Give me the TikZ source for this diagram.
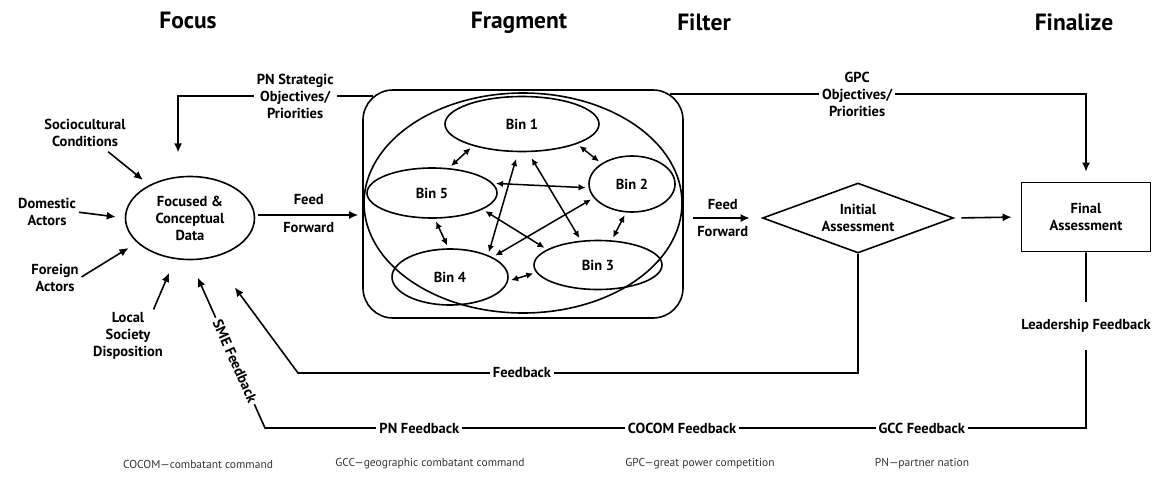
\documentclass[tikz,border=0pt]{standalone}
\usepackage{fontspec}
\setmainfont{PT Sans}
\usepackage{tikz}
\usetikzlibrary{positioning,arrows.meta,shapes,calc}

\begin{document}
\begin{tikzpicture}[
        x=1pt, y=-1pt,
        font=\bfseries\fontsize{14.5}{17}\selectfont,
        every node/.style={align=center, inner sep=1pt},
        heading/.style={anchor=base, font=\bfseries\fontsize{23.5}{28}\selectfont},
        oval/.style={ellipse, draw, line width=1.6pt, inner sep=0pt},
        bin/.style={ellipse, draw, line width=1.6pt, inner sep=0pt},
        lbl/.style={fill=white, inner sep=3pt},
        arrow/.style={-{Latex[length=9pt,width=8pt]}, line width=1.6pt},
        link/.style={{Latex[length=7pt,width=6.5pt]}-{Latex[length=7pt,width=6.5pt]},
                     line width=1.5pt, shorten <=3pt, shorten >=3pt},
        gloss/.style={font=\fontsize{11.5}{14}\selectfont, text=black!80}
    ]
    \useasboundingbox (0,0) rectangle (1168,496);

    % Column headings
    \node [heading] (hfocus) at (188,28) {Focus};
    \node [heading] (hfrag) at (519,28) {Fragment};
    \node [heading] (hfilter) at (704,30) {Filter};
    \node [heading] (hfinal) at (1074,30) {Finalize};

    % Focus
    \node [oval, minimum width=129, minimum height=83] (focus) at (190,218) {Focused \&\\Conceptual\\Data};
    \node (soc) at (85,133) {Sociocultural\\Conditions};
    \node (dom) at (47,212) {Domestic\\Actors};
    \node (fgn) at (55,278) {Foreign\\Actors};
    \node (lsd) at (128,336) {Local\\Society\\Disposition};

    \draw [arrow, shorten <=6pt, shorten >=8pt] (soc) -- (focus);
    \draw [arrow, shorten <=2pt, shorten >=9pt] (dom.east) -- (focus.west);
    \draw [arrow, shorten <=2pt, shorten >=10pt] (fgn.east) -- (focus.205);
    \draw [arrow, shorten <=2pt, shorten >=15pt] (lsd.45) -- (focus.250);

    % Fragment
    \node [draw, line width=1.6pt, rounded corners=30pt, minimum width=320, minimum height=228] (frag) at (523,204) {};
    \node [oval, minimum width=318, minimum height=220] (pool) at (523,203) {};
    \node [bin, minimum width=154, minimum height=55] (b1) at (522,124) {Bin 1};
    \node [bin, minimum width=86, minimum height=56] (b2) at (632,184) {Bin 2};
    \node [bin, minimum width=128, minimum height=49] (b3) at (598,265) {Bin 3};
    \node [bin, minimum width=116, minimum height=56] (b4) at (450,277) {Bin 4};
    \node [bin, minimum width=130, minimum height=50] (b5) at (432,193) {Bin 5};

    \draw [link] (b1.204) -- (b5.56);
    \draw [link] (b1.340) -- (b2.146);
    \draw [link] (b2.258) -- (b3.61);
    \draw [link] (b3.187) -- (b4.356);
    \draw [link] (b4.93) -- (b5.276);
    \draw [link] (b5.9) -- (b2.185);
    \draw [link, shorten <=7pt] (b1.262) -- (b4.30);
    \draw [link, shorten <=7pt] (b1.282) -- (b3.125);
    \draw [link] (b5.342) -- (b3.163);
    \draw [link] (b2.200) -- (b4.25);

    % Filter and Finalize
    \node [diamond, draw, line width=1.6pt, aspect=2.7, minimum width=191, minimum height=70, inner sep=0pt] (init) at (858,218) {Initial\\Assessment};
    \node [draw, line width=1.6pt, minimum width=129, minimum height=69] (final) at (1086,217) {Final\\Assessment};

    % Feed forward
    \draw [arrow, shorten <=3pt, shorten >=4pt] ([yshift=3pt]focus.east) -- ([yshift=3pt]focus.east -| frag.west)
        node [midway, above=9pt] {Feed} node [midway, below=6pt] {Forward};
    \draw [arrow, shorten <=9pt, shorten >=12pt] (init.west -| frag.east) -- (init.west)
        node [midway, above=7pt] {Feed} node [midway, below=7pt] {Forward};
    \draw [arrow, shorten <=7pt, shorten >=9pt] (init.east) -- (final.west);

    % Objectives
    \draw [arrow, shorten >=24pt] ([shift={(11,7)}]frag.north west) -| node [lbl, pos=0.2] {PN Strategic\\Objectives/\\Priorities} (focus.106);
    \draw [arrow, shorten >=10pt] ([shift={(-14,5)}]frag.north east) -| node [lbl, pos=0.225] {GPC\\Objectives/\\Priorities} (final.north);

    % Feedback loops
    \coordinate (fbturn) at (298,373);
    \coordinate (gccturn) at (265,428);
    \draw [arrow, shorten >=37pt] (init.south) |- node [lbl, pos=0.8] {Feedback} (fbturn) -- (focus.300);
    \draw [arrow, shorten >=19pt] (final.south) |- node [lbl, inner ysep=17pt, pos=0.21] {Leadership Feedback}
        node [lbl, pos=0.6] {GCC Feedback} node [lbl, pos=0.746] {COCOM Feedback}
        node [lbl, pos=0.906] {PN Feedback} (gccturn)
        -- node [lbl, sloped, pos=0.4] {SME Feedback} (focus.south);

    % Abbreviations
    \node [gloss] (gcocom) at (198,464) {COCOM—combatant command};
    \node [gloss] (ggcc) at (430,464) {GCC—geographic combatant command};
    \node [gloss] (ggpc) at (700,464) {GPC—great power competition};
    \node [gloss] (gpn) at (922,464) {PN—partner nation};
\end{tikzpicture}
\end{document}
